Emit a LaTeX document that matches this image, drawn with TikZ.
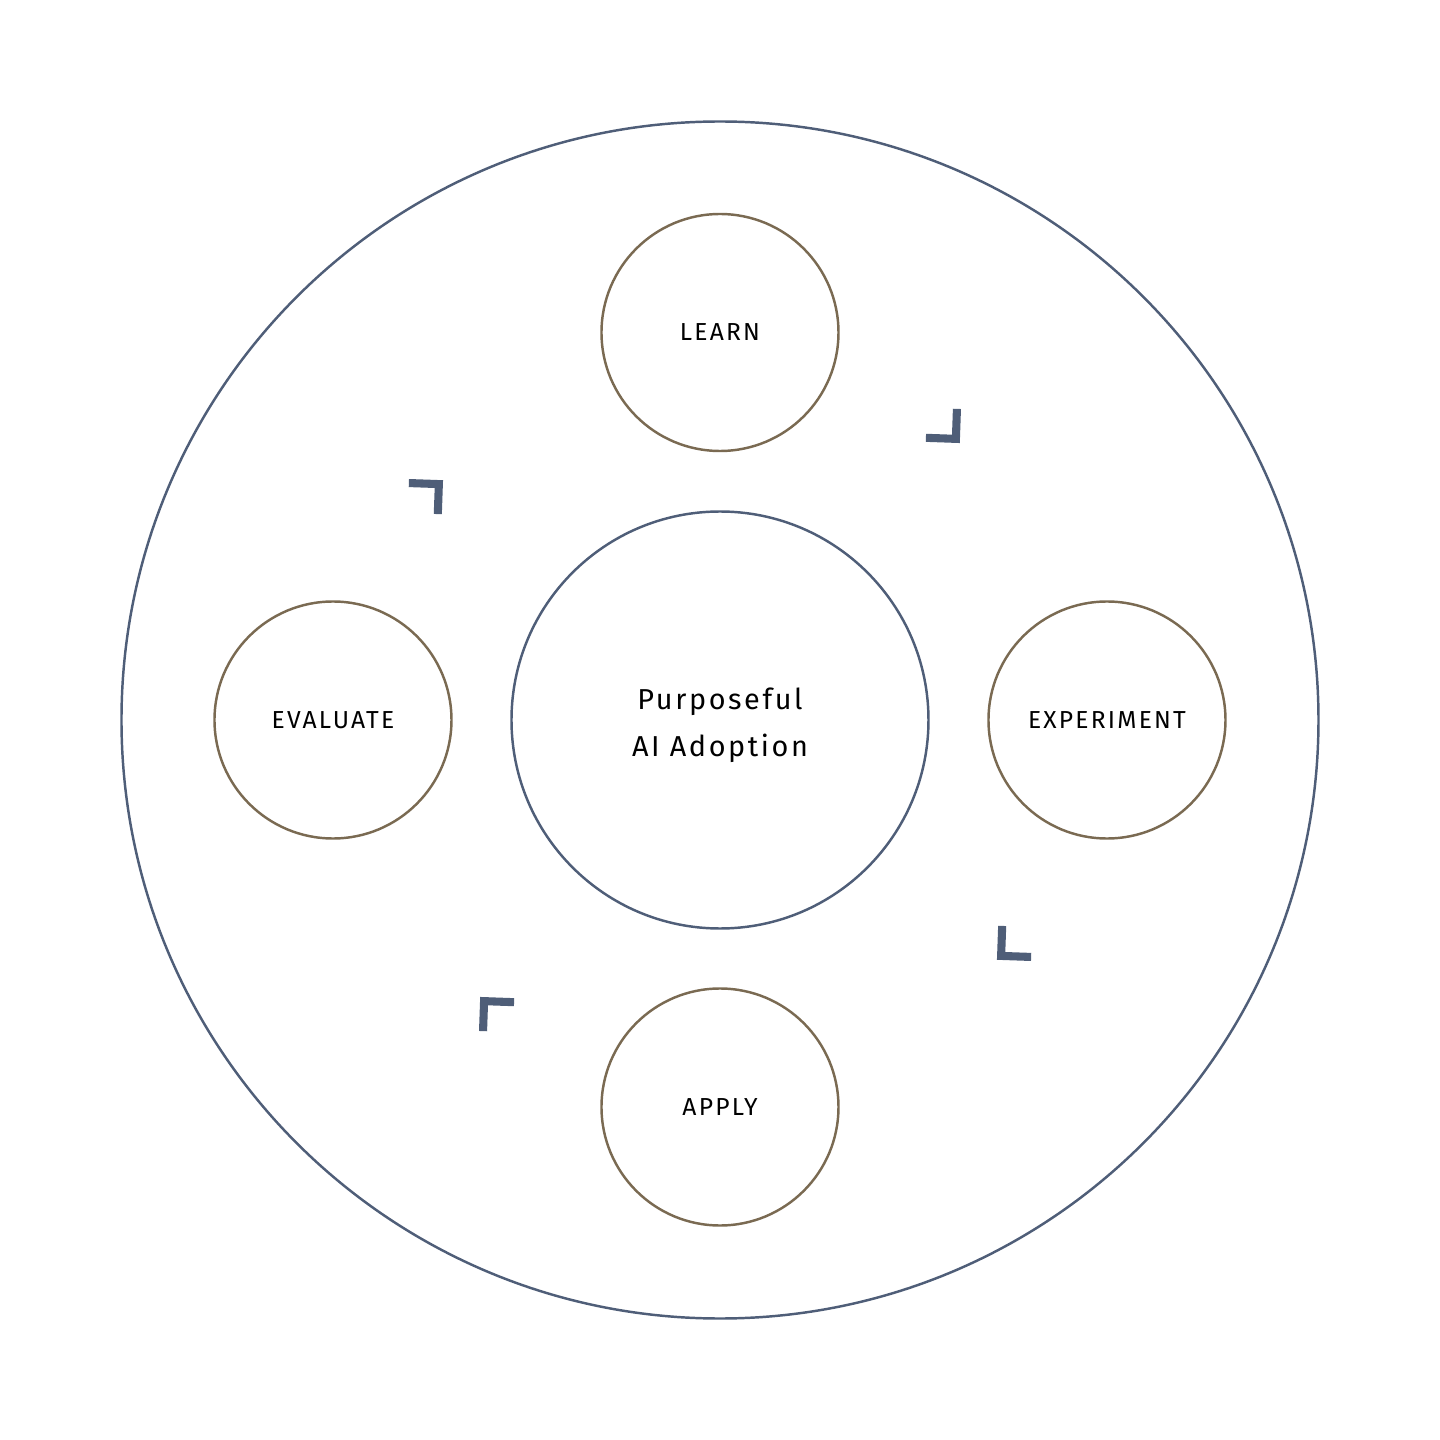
\documentclass[tikz,border=0pt]{standalone}
\usepackage{fontspec}
\setmainfont{Fira Sans}
\newfontfamily\stagefont[LetterSpace=9]{Fira Sans}
\definecolor{slate}{HTML}{4F5E78}
\definecolor{bronze}{HTML}{7A6A52}

\begin{document}
\begin{tikzpicture}[
        ring/.style={circle, draw=slate, line width=0.7pt, minimum size=11.97cm, inner sep=0pt},
        hub/.style={circle, draw=slate, line width=0.7pt, minimum size=4.17cm, inner sep=0pt, align=center,
                font=\fontsize{8.2}{13.4}\selectfont\stagefont},
        stage/.style={circle, draw=bronze, line width=0.7pt, minimum size=2.37cm, inner sep=0pt,
                font=\fontsize{7}{8}\selectfont\stagefont},
        chevron/.style={draw=slate, line width=2.3pt, line cap=butt, line join=miter}
]
        \useasboundingbox (-7.2cm, -7.2cm) rectangle (7.2cm, 7.2cm);
        \node (outer) [ring] at (0cm, 0cm) {};
        \node (hub) [hub] at (0cm, 0cm) {};
        \node (hubtext) [font=\fontsize{8.2}{13.4}\selectfont\stagefont, align=center] at (0cm, -0.05cm) {Purposeful\\AI Adoption};
        \node (learn) [stage] at (0cm, 3.875cm) {LEARN};
        \node (experiment) [stage] at (3.87cm, 0cm) {EXPERIMENT};
        \node (apply) [stage] at (0cm, -3.87cm) {APPLY};
        \node (evaluate) [stage] at (-3.87cm, 0cm) {EVALUATE};
        \foreach \a/\n in {50/tr, -40/br, -130/bl, 140/tl} {
                \coordinate (\n) at (\a:3.67cm);
                \draw [chevron] (\n) ++(\a+38:0.3cm) -- (\n) -- ++(\a+128:0.3cm);
        }
\end{tikzpicture}
\end{document}
